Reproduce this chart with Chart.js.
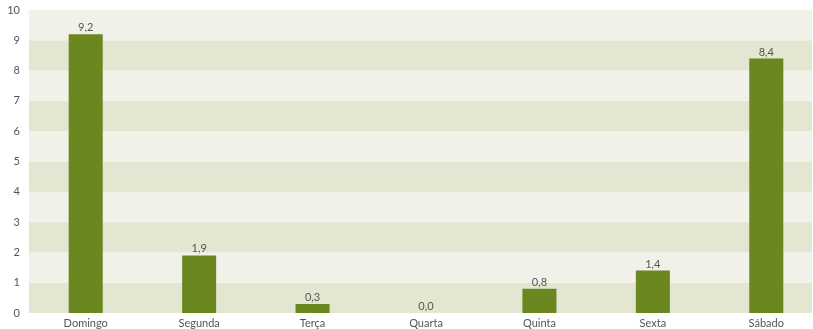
<!DOCTYPE html>
<html>
<head>
<meta charset="utf-8">
<script src="https://cdn.jsdelivr.net/npm/chart.js@4"></script>
<style>
  body { margin: 0; background: #fff; }
  #wrap { width: 813px; height: 329px; }
</style>
</head>
<body>
<div id="wrap"><canvas id="myChart"></canvas></div>
<script>
const dias = ["Domingo", "Segunda", "Terça", "Quarta", "Quinta", "Sexta", "Sábado"];
const valores = [9.2, 1.9, 0.3, 0.0, 0.8, 1.4, 8.4];
const yTicks = [0, 1, 2, 3, 4, 5, 6, 7, 8, 9, 10];

const corBarra = "#6b8720";
const corTexto = "#555555";

// ajusta a área: topo em 10px e eixo x um pouco além da borda direita
const ajuste = {
    id: "ajuste",
    afterLayout(chart) {
        const y = chart.scales.y;
        y.top = 10;
        y.height = y.bottom - y.top;
        y.configure();
        chart.chartArea.top = 10;
        const x = chart.scales.x;
        x.right = 823;
        x.width = x.right - x.left;
        x.configure();
    }
};

// faixas alternadas no fundo
const faixas = {
    id: "faixas",
    beforeDraw(chart) {
        const { ctx, chartArea, scales } = chart;
        const y = scales.y;
        const right = Math.min(chartArea.right, chart.width - 1);
        for (let i = 0; i < yTicks.length - 1; i++) {
            const top = y.getPixelForValue(yTicks[i + 1]);
            const bottom = y.getPixelForValue(yTicks[i]);
            ctx.fillStyle = i % 2 === 0 ? "#e3e6d1" : "#f1f1e9";
            ctx.fillRect(chartArea.left, top, right - chartArea.left, bottom - top);
        }
    }
};

// rótulos dos valores acima das barras
const rotulos = {
    id: "rotulos",
    afterDatasetsDraw(chart) {
        const { ctx } = chart;
        const meta = chart.getDatasetMeta(0);
        ctx.save();
        ctx.font = "11px Lato";
        ctx.fillStyle = corTexto;
        ctx.textAlign = "center";
        ctx.textBaseline = "bottom";
        meta.data.forEach((bar, i) => {
            ctx.fillText(valores[i].toFixed(1).replace(".", ","), bar.x, bar.y - 1);
        });
        ctx.restore();
    }
};

const config = {
    type: "bar",
    data: {
        labels: dias,
        datasets: [{
            data: valores,
            backgroundColor: corBarra,
            barPercentage: 0.3,
            categoryPercentage: 1.0
        }]
    },
    options: {
        responsive: true,
        maintainAspectRatio: false,
        animation: false,
        layout: { padding: { top: 10, right: 1, left: 1, bottom: 0 } },
        plugins: { legend: { display: false }, tooltip: { enabled: false } },
        scales: {
            x: {
                grid: { display: false, drawTicks: false },
                border: { display: false },
                ticks: { color: corTexto, font: { family: "Lato", size: 11 }, padding: 4 },
                afterFit(scale) { scale.height = 16; }
            },
            y: {
                min: 0,
                max: 10,
                grid: { display: false, drawTicks: false },
                border: { display: false },
                ticks: { stepSize: 1, color: corTexto, font: { family: "Lato", size: 11 }, padding: 9 },
                afterFit(scale) { scale.width = 28; }
            }
        }
    },
    plugins: [ajuste, faixas, rotulos]
};

const chart = new Chart(document.querySelector("#myChart"), config);
</script>
</body>
</html>
